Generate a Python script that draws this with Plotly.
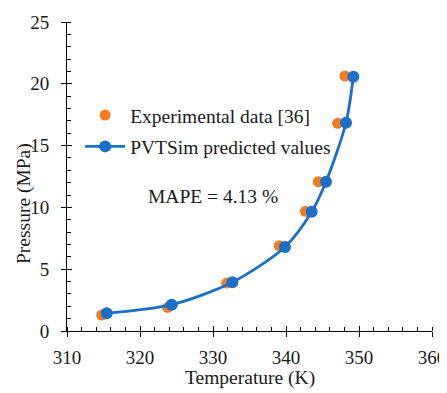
import plotly.graph_objects as go

# Data
exp_T = [314.75, 323.79, 331.87, 339.08, 342.65, 344.43, 347.08, 348.08]
exp_P = [1.29, 1.91, 3.88, 6.90, 9.68, 12.08, 16.80, 20.63]
pred_T = [315.44, 324.34, 332.65, 339.86, 343.52, 345.48, 348.22, 349.22]
pred_P = [1.43, 2.13, 3.94, 6.80, 9.65, 12.08, 16.85, 20.57]

FONT = "Liberation Serif, Times New Roman, serif"
ORANGE = "#F57B22"
BLUE = "#1A6FC6"
TXT = "#1a1a1a"

fig = go.Figure()
fig.add_trace(go.Scatter(
    x=exp_T, y=exp_P, mode="markers", name="Experimental data [36]",
    legendgroup="a",
    marker=dict(color=ORANGE, size=11),
))
fig.add_trace(go.Scatter(
    x=pred_T, y=pred_P, mode="lines+markers", name="PVTSim predicted values",
    legendgroup="b",
    line=dict(color=BLUE, width=2.8, shape="spline", smoothing=0.8),
    marker=dict(color=BLUE, size=12),
))
# empty trace to activate overlay axes (for crossing tick marks)
fig.add_trace(go.Scatter(x=[], y=[], xaxis="x2", yaxis="y2", showlegend=False, hoverinfo="skip"))

fig.add_annotation(
    x=0.400, y=0.434, xref="paper", yref="paper", text="MAPE = 4.13 %",
    showarrow=False, font=dict(family=FONT, size=19.5, color=TXT),
    xanchor="center", yanchor="middle",
)
fig.add_annotation(
    x=0.5, y=-0.152, xref="paper", yref="paper", text="Temperature (K)",
    showarrow=False, font=dict(family=FONT, size=19.5, color=TXT),
    xanchor="center", yanchor="middle",
)
fig.add_annotation(
    x=-0.118, y=0.414, xref="paper", yref="paper", text="Pressure (MPa)",
    showarrow=False, font=dict(family=FONT, size=19.5, color=TXT), textangle=-90,
    xanchor="center", yanchor="middle",
)

axis_common = dict(showgrid=False, zeroline=False, linecolor="black", linewidth=1,
                   tickcolor="black", automargin=False,
                   tickfont=dict(family=FONT, size=19, color=TXT))

# page has an 8px body margin, so figure is sized to fit the window
fig.update_layout(
    width=439, height=385,
    margin=dict(l=59, r=15, t=14, b=62, autoexpand=False),
    paper_bgcolor="white", plot_bgcolor="white",
    font=dict(family=FONT, color=TXT),
    showlegend=True,
    legend=dict(x=0.036, y=0.761, xanchor="left", yanchor="top",
                font=dict(family=FONT, size=19.5, color=TXT),
                bgcolor="rgba(0,0,0,0)", itemwidth=40, tracegroupgap=3,
                traceorder="grouped"),
    xaxis=dict(range=[310, 360], dtick=10, showline=True, ticks="outside", ticklen=5,
               ticklabelstandoff=4,
               minor=dict(ticks="inside", ticklen=4, dtick=2, tickcolor="black"),
               **axis_common),
    yaxis=dict(range=[0, 25], dtick=5, showline=True, ticks="outside", ticklen=5,
               ticklabelstandoff=8,
               minor=dict(ticks="inside", ticklen=4, dtick=1, tickcolor="black"),
               **axis_common),
    xaxis2=dict(range=[310, 360], dtick=10, overlaying="x", anchor="y2", side="bottom",
                ticks="inside", ticklen=5, tickcolor="black", showticklabels=False,
                showline=False, showgrid=False, zeroline=False, automargin=False),
    yaxis2=dict(range=[0, 25], dtick=5, overlaying="y", anchor="x2", side="left",
                ticks="inside", ticklen=5, tickcolor="black", showticklabels=False,
                showline=False, showgrid=False, zeroline=False, automargin=False),
)

fig.write_html("out.html")
